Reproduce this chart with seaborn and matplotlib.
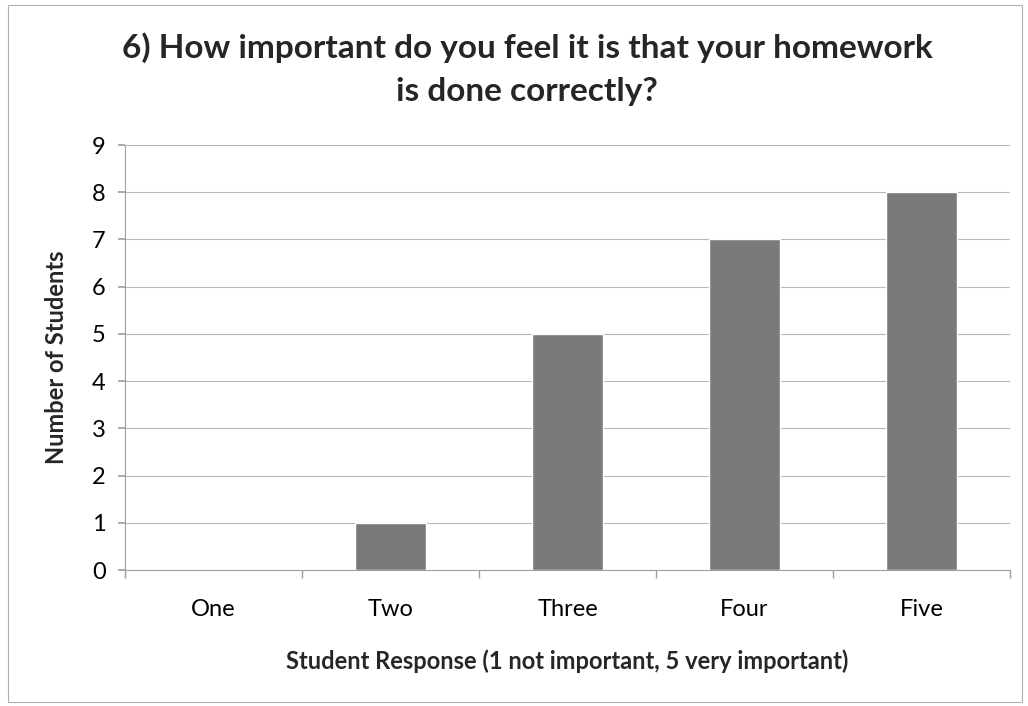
import pandas as pd
import seaborn as sns
import matplotlib.pyplot as plt
from matplotlib.patches import Rectangle

# --- Data ---
responses = ['One', 'Two', 'Three', 'Four', 'Five']
students = [0, 1, 5, 7, 8]

TITLE = '6) How important do you feel it is that your homework\nis done correctly?'
X_LABEL = 'Student Response (1 not important, 5 very important)'
Y_LABEL = 'Number of Students'

df = pd.DataFrame({'Response': responses, 'Students': students})

sns.set_theme(style='white')
plt.rcParams['font.family'] = ['Lato', 'DejaVu Sans']

fig = plt.figure(figsize=(10.28, 7.06), dpi=100)
ax = fig.add_axes([0.1216, 0.1926, 0.8609, 0.602])

sns.barplot(data=df, x='Response', y='Students', color='#7a7a7a',
            saturation=1, width=0.4, ax=ax)

ax.set_ylim(0, 9)
ax.set_xlim(-0.5, len(responses) - 0.5)
ax.set_yticks(range(0, 10))
ax.yaxis.grid(True, color='#b8b8b8', linewidth=0.8)
ax.set_axisbelow(True)

for side in ['top', 'right']:
    ax.spines[side].set_visible(False)
for side in ['left', 'bottom']:
    ax.spines[side].set_color('#a0a0a0')
    ax.spines[side].set_linewidth(0.8)

# category boundary ticks on x, small outward ticks on y
ax.set_xticks([i + 0.5 for i in range(-1, len(responses))], minor=True)
ax.tick_params(axis='x', which='minor', length=6, color='#a0a0a0', direction='out', bottom=True)
ax.tick_params(axis='x', which='major', length=0, labelsize=17, pad=21, colors='black')
ax.tick_params(axis='y', which='major', length=5, color='#a0a0a0', direction='out', left=True,
               labelsize=17, pad=9, colors='black')

ax.set_xlabel(X_LABEL, fontsize=17, fontweight='bold', labelpad=21)
ax.set_ylabel(Y_LABEL, fontsize=17, fontweight='bold', labelpad=17)

fig.text(0.513, 0.902, TITLE, ha='center', va='center', fontsize=24,
         fontweight='bold', linespacing=1.55)

# thin chart frame
fig.patches.append(Rectangle((0.008, 0.005), 0.986, 0.988, transform=fig.transFigure,
                             fill=False, edgecolor='#b0b0b0', linewidth=0.8))

fig.savefig('out.png', dpi=100)
plt.close(fig)
